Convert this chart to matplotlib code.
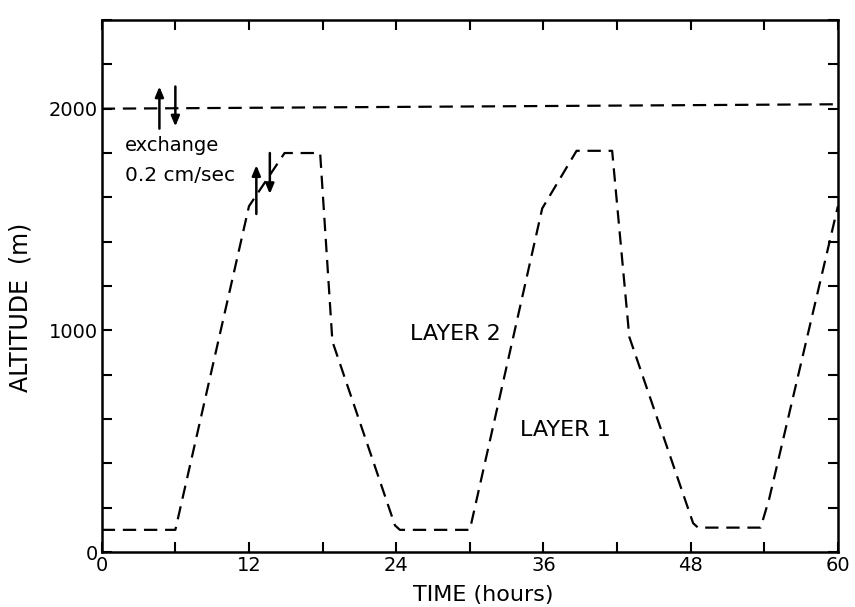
import matplotlib
matplotlib.use("Agg")
import matplotlib.pyplot as plt
from matplotlib.ticker import MultipleLocator

# layer boundary (mixed layer top)
time_h = [0, 6, 12, 14.9, 17.8, 18.8, 23.9, 24.3, 30, 35.9, 38.7, 41.6, 43.0, 48.2, 48.6, 53.7, 54.4, 60]
alt_m = [100, 100, 1560, 1800, 1800, 950, 120, 100, 100, 1550, 1810, 1810, 970, 130, 110, 110, 240, 1560]

# upper boundary of layer 2
top_time = [0, 60]
top_alt = [2000, 2020]

# exchange arrows: (x, tail, head)
arrows = [(4.7, 1910, 2100), (6.0, 2100, 1920), (12.6, 1525, 1745), (13.7, 1800, 1615)]

fig = plt.figure(figsize=(8.55, 6.07), dpi=100)
ax = fig.add_axes([0.119, 0.0906, 0.861, 0.8764])

dash = (6, 3.5)
ax.plot(time_h, alt_m, color="black", lw=1.6, dashes=dash)
ax.plot(top_time, top_alt, color="black", lw=1.6, dashes=dash)

for x, y0, y1 in arrows:
    ax.annotate("", xy=(x, y1), xytext=(x, y0),
                arrowprops=dict(arrowstyle="-|>,head_length=0.6,head_width=0.25",
                                color="black", lw=1.8, shrinkA=0, shrinkB=0))

ax.text(1.9, 1810, "exchange", fontsize=14, va="baseline", ha="left")
ax.text(1.9, 1672, "0.2 cm/sec", fontsize=14.5, va="baseline", ha="left")
ax.text(28.8, 982, "LAYER 2", fontsize=16, va="center", ha="center")
ax.text(37.8, 552, "LAYER 1", fontsize=16, va="center", ha="center")

ax.set_xlim(0, 60)
ax.set_ylim(0, 2400)
ax.xaxis.set_major_locator(MultipleLocator(12))
ax.xaxis.set_minor_locator(MultipleLocator(6))
ax.yaxis.set_major_locator(MultipleLocator(1000))
ax.yaxis.set_minor_locator(MultipleLocator(200))
ax.tick_params(which="both", direction="in", top=True, right=True,
               length=7.5, width=1.5, labelsize=14, pad=3)

for s in ax.spines.values():
    s.set_linewidth(1.8)

ax.set_xlabel("TIME (hours)", fontsize=16)
ax.set_ylabel("ALTITUDE  (m)", fontsize=17)
ax.xaxis.set_label_coords(0.518, -0.062)
ax.yaxis.set_label_coords(-0.094, 0.459)

fig.savefig("out.png", dpi=100)
